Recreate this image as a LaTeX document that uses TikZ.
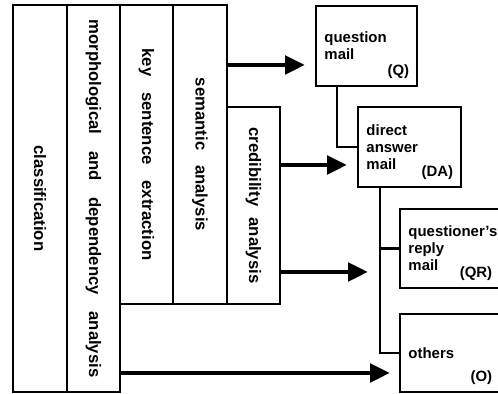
\documentclass[tikz,border=0pt]{standalone}
\usepackage{fontspec}
\setmainfont{Liberation Sans}
\usepackage{graphicx}
\usetikzlibrary{arrows.meta,positioning,calc}
\newcommand{\vlabel}[2]{\rotatebox{-90}{\makebox[#1]{#2}}}
\tikzset{
  colbox/.style={rectangle, draw=black, line width=1.6pt, outer sep=0pt, inner sep=0pt, anchor=north west, font=\fontsize{9.5}{11}\selectfont\bfseries},
  mailbox/.style={rectangle, draw=black, line width=1.6pt, outer sep=0pt, inner xsep=0.17cm, anchor=north west, align=left, font=\fontsize{8.5}{9.7}\selectfont\bfseries},
  tag/.style={anchor=south east, inner sep=0.15cm, font=\fontsize{8.5}{9.7}\selectfont\bfseries},
  joinline/.style={line width=1.6pt},
  bigarrow/.style={-{Triangle[length=0.4cm,width=0.36cm]}, line width=2.8pt}
}
\begin{document}
\begin{tikzpicture}[x=0.02cm, y=-0.02cm]
\useasboundingbox (0,0) rectangle (498,394);
\clip (0,0) rectangle (498,394);
% analysis columns
\node[colbox, minimum width=1.08cm, minimum height=7.74cm] (class) at (13,5) {\rotatebox{-90}{classification}};
\node[colbox, minimum width=1.06cm, minimum height=7.74cm] (morph) at (class.north east) {\vlabel{7.16cm}{morphological\hfill and\hfill dependency\hfill analysis}};
\node[colbox, minimum width=1.06cm, minimum height=5.98cm] (key) at (morph.north east) {\vlabel{4.24cm}{key\hfill sentence\hfill extraction}};
\node[colbox, minimum width=1.08cm, minimum height=5.98cm] (sem) at (key.north east) {\vlabel{3.06cm}{semantic\hfill analysis}};
\node[colbox, anchor=south west, minimum width=1.06cm, minimum height=3.94cm] (cred) at (sem.south east) {\vlabel{3.12cm}{credibility\hfill analysis}};
% mail types
\node[mailbox, text width=1.68cm, minimum height=1.6cm, label={[tag]south east:(Q)}] (q) at (316,6) {question\\mail};
\node[mailbox, text width=1.72cm, minimum height=1.6cm, label={[tag]south east:(DA)}] (da) at (358,107) {direct\\answer\\mail};
\node[mailbox, text width=1.66cm, minimum height=1.58cm, label={[tag]south east:(QR)}] (qr) at (400,209) {questioner's\\reply\\mail};
\node[mailbox, text width=1.66cm, minimum height=1.56cm, below=0.52cm of qr.south west, anchor=north west, label={[tag]south east:(O)}] (oth) {others};
\draw[joinline] ($(q.south west)+(21,0)$) |- (da.west);
\draw[joinline] ($(da.south west)+(22,0)$) |- (qr.west);
\draw[joinline] ($(da.south west)+(22,0)$) |- (oth.west);
% arrows
\coordinate (qin) at (305,65);
\coordinate (dain) at (347,165);
\coordinate (qrin) at (368,272);
\coordinate (othin) at (390,373);
\draw[bigarrow] (sem.east |- qin) -- (qin);
\draw[bigarrow] (cred.east |- dain) -- (dain);
\draw[bigarrow] (cred.east |- qrin) -- (qrin);
\draw[bigarrow] (morph.east |- othin) -- (othin);
\end{tikzpicture}
\end{document}
